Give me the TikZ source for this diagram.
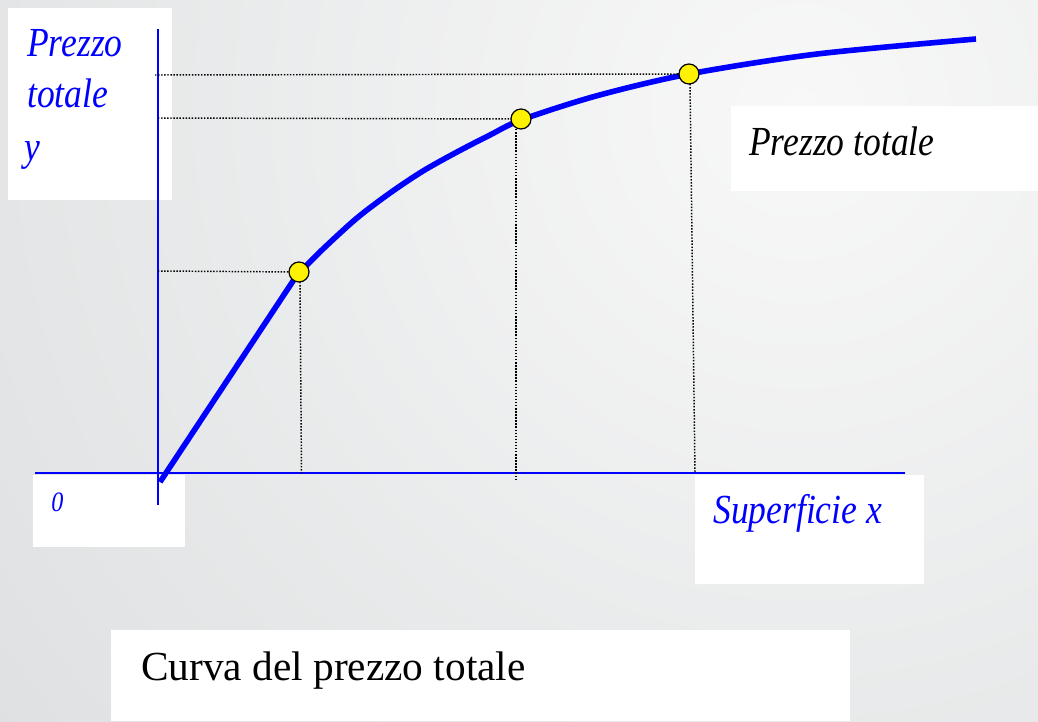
\documentclass[tikz,border=0pt]{standalone}
\usepackage{fontspec}
\setmainfont{Liberation Serif}
\newfontfamily\garit[FakeStretch=0.86]{Liberation Serif Italic}
\definecolor{bgin}{HTML}{F8F8F8}
\definecolor{bgout}{HTML}{CACED0}
\begin{document}
\begin{tikzpicture}[x=0.75pt,y=-0.75pt,
  whitebox/.style={fill=white},
  axisline/.style={blue, line width=1.5pt},
  guide/.style={black, line width=1.1pt, dash pattern=on 1.1pt off 1.2pt},
  dotpt/.style={circle, fill=yellow, draw=black, line width=0.9pt, minimum size=15pt, inner sep=0pt},
  itlab/.style={inner sep=0pt, anchor=base west, font=\garit\fontsize{31}{37}\selectfont},
  uplab/.style={inner sep=0pt, anchor=base west, font=\fontsize{31}{37}\selectfont}]
\useasboundingbox (0,0) rectangle (1038,721);
% background
\begin{scope}
  \clip (0,0) rectangle (1038,721);
  \shade[inner color=bgin, outer color=bgout] (800,110) circle (1350pt);
\end{scope}
% white boxes
\fill[whitebox] (8,8) rectangle (172,200);
\fill[whitebox] (33,475) rectangle (185,547);
\fill[whitebox] (731,106) rectangle (1038,191);
\fill[whitebox] (695,475) rectangle (924,584);
\fill[whitebox] (111,630) rectangle (850,721);
% axes
\coordinate (yt) at (158,29);
\coordinate (yb) at (158,505);
\coordinate (xl) at (35,473);
\coordinate (xr) at (905,473);
\draw[axisline] (yt) -- (yb);
\draw[axisline] (xl) -- (xr);
% curve
\coordinate (c0) at (160,482);
\draw[blue, line width=4.2pt, line join=round] (c0) -- plot[smooth, tension=0.5] coordinates {
  (297,275) (323,249) (357,218) (390,193) (423,171) (457,152) (490,135) (521,120)
  (596,96) (689,74) (817,54) (976,39)};
% guide lines
\coordinate (p1) at (299,272);
\coordinate (p2) at (521,119);
\coordinate (p3) at (689,74);
\coordinate (h1) at (158,271);
\coordinate (h2) at (158,118);
\coordinate (h3) at (155,75);
\coordinate (v1t) at (300,282);
\coordinate (v1b) at (301.5,473);
\coordinate (v2t) at (516,129);
\coordinate (v2b) at (516,480);
\coordinate (v3t) at (690,84);
\coordinate (v3b) at (695,473);
\draw[guide] (h1) -- (p1);
\draw[guide] (h2) -- (p2);
\draw[guide] (h3) -- (p3);
\draw[guide] (v1t) -- (v1b);
\draw[guide] (v2t) -- (v2b);
\draw[guide] (v3t) -- (v3b);
% points
\node[dotpt] (d1) at (p1) {};
\node[dotpt] (d2) at (p2) {};
\node[dotpt] (d3) at (p3) {};
% labels
\node[itlab, text=blue] (ylab1) at (27,56) {Prezzo};
\node[itlab, text=blue] (ylab2) at (27,107) {totale};
\node[itlab, text=blue] (ylab3) at (24,160) {y};
\node[inner sep=0pt, anchor=base west, text=blue, font=\garit\fontsize{21}{25}\selectfont] (zero) at (51,511) {0};
\node[itlab] (ptot) at (749,155) {Prezzo totale};
\node[itlab, text=blue] (xlab) at (713,523) {Superficie x};
\node[uplab] (title) at (141,680) {Curva del prezzo totale};
\end{tikzpicture}
\end{document}
